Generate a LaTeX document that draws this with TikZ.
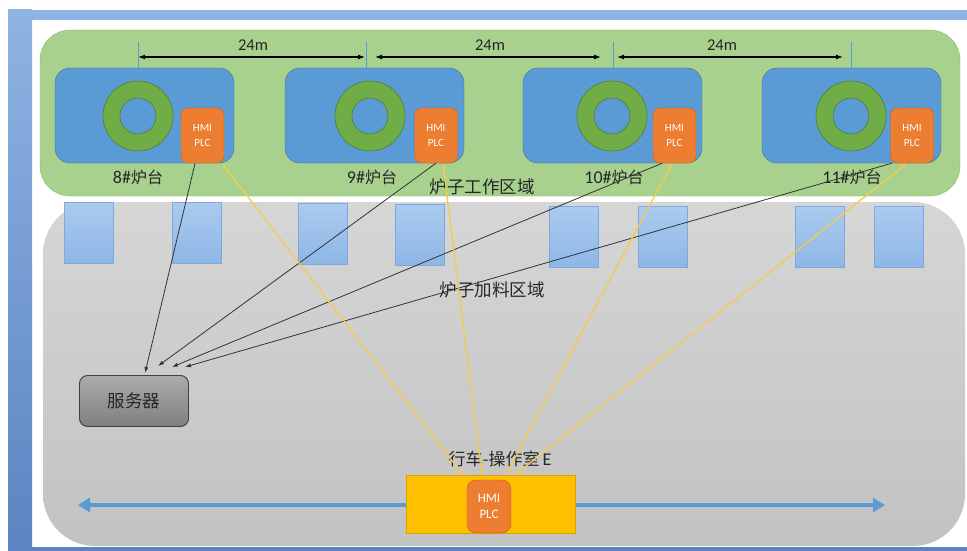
\documentclass[tikz,border=0pt]{standalone}
\usepackage{fontspec}
\setmainfont{Carlito}
\newfontfamily\cjk{Noto Sans CJK SC}
\usetikzlibrary{arrows.meta,calc}
\definecolor{framehi}{HTML}{8FB3E3}
\definecolor{framelo}{HTML}{5C84C2}
\definecolor{workgreen}{HTML}{A9D18E}
\definecolor{workedge}{HTML}{8DB86F}
\definecolor{furnblue}{HTML}{5B9BD5}
\definecolor{furnedge}{HTML}{41719C}
\definecolor{ringgreen}{HTML}{70AD47}
\definecolor{ringedge}{HTML}{507E32}
\definecolor{hmiorange}{HTML}{ED7D31}
\definecolor{hmiedge}{HTML}{C0651F}
\definecolor{feedhi}{HTML}{D6D6D6}
\definecolor{feedlo}{HTML}{C2C2C2}
\definecolor{binhi}{HTML}{ABCBEF}
\definecolor{binlo}{HTML}{8EB6E6}
\definecolor{binedge}{HTML}{7FA8DC}
\definecolor{cranefill}{HTML}{FFC000}
\definecolor{craneedge}{HTML}{D9A300}
\definecolor{feedline}{HTML}{F4CB4A}
\begin{document}
\begin{tikzpicture}[x=1pt,y=-1pt,
	furnace/.style={draw=furnedge, fill=furnblue, rounded corners=15pt, minimum width=179pt, minimum height=95pt, inner sep=0pt},
	ring/.style={draw=ringedge, fill=ringgreen, line width=0.6pt},
	hmibox/.style={draw=hmiedge, fill=hmiorange, rounded corners=7pt, minimum width=43pt, minimum height=55pt, inner sep=0pt, text=white, align=center, font=\fontsize{11}{15}\selectfont},
	lbl/.style={text=black!85, inner sep=1pt, font=\fontsize{18}{20}\selectfont},
	zone/.style={text=black!85, inner sep=1pt, font=\fontsize{17.5}{20}\selectfont\cjk},
	bin/.style={top color=binhi, bottom color=binlo, draw=binedge, line width=0.6pt},
	dim/.style={line width=1.2pt, {Latex[length=7pt,width=5pt]}-{Latex[length=7pt,width=5pt]}},
	link/.style={draw=black!80, line width=0.8pt, -{Latex[length=6pt,width=4pt]}},
	feed/.style={draw=feedline, line width=1.3pt, {Latex[length=5pt,width=4pt]}-{Latex[length=5pt,width=4pt]}}]
	\useasboundingbox (0,0) rectangle (967,551);
	\fill[white] (0,0) rectangle (967,551);
	% frame of the slide
	\shade[top color=framehi, bottom color=framelo] (8,10) rectangle (32,551);
	\fill[framehi] (8,10) rectangle (967,20);
	\fill[framelo] (32,547) rectangle (967,551);
	% the two areas
	\draw[workedge, fill=workgreen, rounded corners=30pt] (40,30) rectangle (960,196);
	\shade[top color=feedhi, bottom color=feedlo, rounded corners=52pt] (43,202) rectangle (965,546);
	% furnaces
	\foreach \bx/\rx/\hx/\tx/\n in {55/138/202.5/138/8, 285/370/436/372/9, 523/612/674.5/614/10, 762/851/912/852/11}{
		\node[furnace] (f\n) at (\bx+89.5,115.5) {};
		\draw[ring, even odd rule] (\rx,116) circle[radius=35] circle[radius=18];
		\node[hmibox] (hmi\n) at (\hx,135.5) {HMI\\PLC};
		\node[lbl] (lab\n) at (\tx,177) {\n\#{\cjk\fontsize{16}{18}\selectfont 炉台}};
	}
	% distances
	\foreach \t in {138,366,613,851}
		\draw[furnblue, line width=0.8pt] (\t,42) -- (\t,68);
	\foreach \a/\b/\m [count=\i] in {138/365/253, 375/601/490, 617/843/722}{
		\coordinate (dl\i) at (\a,57);
		\coordinate (dr\i) at (\b,57);
		\draw[dim] (dl\i) -- (dr\i);
		\node[lbl, font=\fontsize{16.5}{18}\selectfont] (dm\i) at (\m,45) {24m};
	}
	\node[zone] (work) at (482,187) {炉子工作区域};
	% loading bays
	\foreach \x/\y in {64/202, 172/202, 298/203, 395/204, 549/206, 638/206, 795/206, 874/206}
		\draw[bin] (\x,\y) rectangle ++(49,61);
	\node[zone] (feed) at (492,290) {炉子加料区域};
	% server
	\node[draw=black!75, line width=0.9pt, top color=black!33, bottom color=black!50, rounded corners=8pt, minimum width=109pt, minimum height=51pt, font=\fontsize{17.5}{20}\selectfont\cjk, text=black!85] (srv) at (134,401) {服务器};
	% crane
	\coordinate (trackL) at (78,505);
	\coordinate (trackR) at (885,505);
	\draw[furnblue, line width=4pt, {Triangle[length=12pt,width=14pt]}-{Triangle[length=12pt,width=14pt]}] (trackL) -- (trackR);
	\node[draw=craneedge, fill=cranefill, minimum width=169pt, minimum height=58pt, inner sep=0pt] (crane) at (490.5,504) {};
	\node[hmibox, rounded corners=9pt, minimum width=44pt, minimum height=53pt, font=\fontsize{13}{16}\selectfont] (hmiE) at (489,506.5) {HMI\\PLC};
	\node[lbl] (cab) at (500,459) {{\cjk\fontsize{17}{20}\selectfont 行车-操作室}\,E};
	% links to the server
	\coordinate (in8) at (145,373);
	\coordinate (in9) at (158,366);
	\coordinate (in10) at (172,367);
	\coordinate (in11) at (185,367);
	\foreach \n/\a in {8/255, 9/270, 10/246, 11/234}
		\draw[link] (hmi\n.\a) -- (in\n);
	% links to the crane
	\foreach \n/\b/\o in {8/305/-27.5, 9/284/-8.5, 10/265/15.5, 11/260/24.5}
		\draw[feed] (hmi\n.\b) -- ($(crane.north)+(\o,0)$);
\end{tikzpicture}
\end{document}
